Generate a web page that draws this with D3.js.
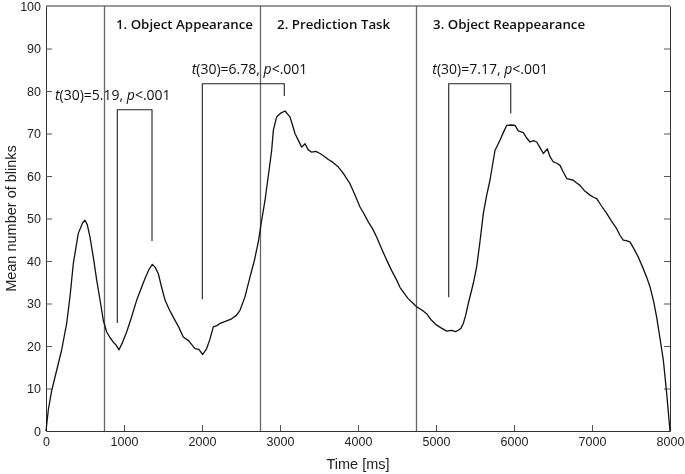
<!DOCTYPE html>
<html>
<head>
<style>
	body { margin: 0; background: #fff; }
	#chart { position: fixed; left: 0; top: 0; width: 685px; height: 474px; }
	.tick text { font-family: "Liberation Sans", Arial, sans-serif; font-size: 12.5px; fill: #222; }
</style>
<script src="https://d3js.org/d3.v7.min.js"></script>
</head>
<body>
<div id="chart"></div>
<script>
	// Curve: time in ms, mean number of blinks
	var timeMs = [0, 30, 73, 137, 200, 265, 310, 350, 414, 470, 500, 530, 564, 610, 650, 700, 735, 778, 820, 863, 900, 936,
		980, 1034, 1100, 1163, 1269, 1320, 1363, 1400, 1440, 1480, 1526, 1580, 1632, 1700, 1760, 1830, 1910, 1960, 2009,
		2060, 2100, 2145, 2190, 2231, 2300, 2380, 2440, 2487, 2550, 2615, 2670, 2722, 2760, 2808, 2850, 2893, 2915, 2957,
		3010, 3064, 3100, 3128, 3160, 3192, 3240, 3278, 3321, 3360, 3406, 3460, 3513, 3570, 3620, 3680, 3748, 3812, 3897,
		3960, 4026, 4080, 4132, 4190, 4240, 4300, 4368, 4430, 4496, 4538, 4581, 4640, 4709, 4752, 4810, 4880, 4940, 5009,
		5070, 5137, 5200, 5250, 5286, 5320, 5350, 5380, 5414, 5478, 5521, 5560, 5607, 5650, 5692, 5756, 5820, 5870, 5906,
		5960, 6013, 6055, 6120, 6160, 6205, 6250, 6291, 6330, 6376, 6427, 6460, 6504, 6550, 6590, 6630, 6676, 6720, 6760,
		6800, 6846, 6900, 6974, 7020, 7060, 7120, 7188, 7250, 7316, 7360, 7401, 7440, 7487, 7540, 7594, 7650, 7701, 7744,
		7790, 7829, 7870, 7915, 7958, 8000];
	var blinks = [0, 5, 9.5, 14.3, 19, 25.3, 32, 39.4, 46.5, 49, 49.6, 48.5, 45.6, 40.5, 35.5, 30, 26, 23.3, 22, 20.9, 20.2, 19.1,
		20.8, 23.3, 27, 30.8, 35.9, 38, 39.2, 38.5, 37, 34, 30.8, 28.6, 26.8, 24.5, 22.1, 21.2, 19.4, 19.2, 18,
		19.4, 21.5, 24.5, 24.8, 25.3, 25.8, 26.4, 27.2, 28.4, 31.5, 36.2, 40, 44.5, 49, 54.3, 60, 66, 70.8, 73.9,
		74.8, 75.3, 74.5, 73.9, 72, 70, 68.2, 66.8, 67.6, 66.2, 65.6, 65.8, 65.3, 64.6, 63.9, 63.2, 62.1, 60.6, 58.2,
		55.6, 52.7, 51, 49.2, 47.5, 45.6, 43, 40.2, 37.8, 35.5, 33.8, 32.7, 31.2, 30, 29.2, 28.6, 27.6, 26.1, 24.9,
		24.2, 23.5, 23.7, 23.4, 23.7, 24.2, 25.3, 27.2, 30, 34.7, 38.6, 44, 51.2, 55.5, 59, 66, 68.4, 70.5, 71.9,
		72, 71.9, 70.6, 70.2, 69, 68, 68.3, 68, 66.8, 65.3, 66.4, 64.6, 63.3, 63, 62.5, 61, 59.4, 59.2, 59,
		58.4, 57.8, 56.6, 55.5, 55, 54.7, 53, 51.2, 49.4, 47.6, 46, 44.9, 44.8, 44.5, 42.8, 40.9, 38.5, 36.2, 33.9,
		30.5, 26.8, 22, 16.6, 8.8, 0];

	// Phase boundaries (ms) and their labels
	var phaseLines = [750, 2750, 4750];
	var phaseLabels = ["1. Object Appearance", "2. Prediction Task", "3. Object Reappearance"];

	// Significance brackets: left/right time, top level, left/right end levels
	var bracketLeft = [914, 2004, 5163];
	var bracketRight = [1359, 3055, 5958];
	var bracketTop = [75.6, 81.7, 81.7];
	var bracketLeftEnd = [25.4, 31.0, 31.5];
	var bracketRightEnd = [44.7, 78.8, 74.7];
	var statT = ["5.19", "6.78", "7.17"];

	var xTicks = [0, 1000, 2000, 3000, 4000, 5000, 6000, 7000, 8000];
	var yTicks = [0, 10, 20, 30, 40, 50, 60, 70, 80, 90, 100];

	function drawChart() {
		d3.select("#chart").selectAll("svg").remove();

		var margin = {top: 6, right: 15, bottom: 43, left: 46},
			width = 685 - margin.left - margin.right,
			height = 474 - margin.top - margin.bottom;

		var svg = d3.select("#chart").append("svg")
			.attr("width", 685)
			.attr("height", 474);
		var g = svg.append("g").attr("transform", "translate(" + margin.left + "," + margin.top + ")");

		var x = d3.scaleLinear().domain([0, 8000]).range([0, width]);
		var y = d3.scaleLinear().domain([0, 100]).range([height, 0]);

		// axes, ticks pointing inwards like the original
		var xAxis = g.append("g").attr("transform", "translate(0," + height + ")")
			.call(d3.axisBottom(x).tickValues(xTicks).tickFormat(d3.format("d"))
				.tickSizeInner(-6).tickSizeOuter(0).tickPadding(6));
		var yAxis = g.append("g")
			.call(d3.axisLeft(y).tickValues(yTicks).tickFormat(d3.format("d"))
				.tickSizeInner(-6).tickSizeOuter(0).tickPadding(5));
		var yRight = g.append("g").attr("transform", "translate(" + width + ",0)")
			.call(d3.axisRight(y).tickValues(yTicks).tickSizeInner(-6).tickSizeOuter(0).tickFormat(""));
		[xAxis, yAxis, yRight].forEach(function(a) {
			a.selectAll("line").attr("stroke", "#555");
			a.select(".domain").attr("stroke", "#333");
		});
		xAxis.selectAll(".tick").filter(function(d) { return d === 0 || d === 8000; }).select("line").remove();
		yAxis.selectAll(".tick").filter(function(d) { return d === 0 || d === 100; }).select("line").remove();
		yRight.selectAll(".tick").filter(function(d) { return d === 0 || d === 100; }).select("line").remove();

		// top border
		g.append("line")
			.attr("x1", 0).attr("x2", width).attr("y1", 0).attr("y2", 0)
			.attr("stroke", "#333");

		// phase separators
		g.selectAll(".phase")
			.data(phaseLines)
			.enter()
			.append("line")
			.attr("x1", function(d) { return x(d); })
			.attr("x2", function(d) { return x(d); })
			.attr("y1", 0)
			.attr("y2", height)
			.attr("stroke", "#666")
			.attr("stroke-width", 1.3);

		var labelStart = [897, 2962, 4962];
		g.selectAll(".phaseLabel")
			.data(phaseLabels)
			.enter()
			.append("text")
			.attr("x", function(d, i) { return x(labelStart[i]); })
			.attr("y", 22.5)
			.attr("font-family", "'Open Sans', sans-serif")
			.attr("font-weight", 600)
			.attr("font-size", "13.3px")
			.attr("fill", "#111")
			.text(function(d) { return d; });

		// brackets
		g.selectAll(".bracket")
			.data(bracketLeft)
			.enter()
			.append("path")
			.attr("d", function(d, i) {
				return "M" + x(bracketLeft[i]) + "," + y(bracketLeftEnd[i]) +
					"V" + y(bracketTop[i]) +
					"H" + x(bracketRight[i]) +
					"V" + y(bracketRightEnd[i]);
			})
			.attr("fill", "none")
			.attr("stroke", "#222")
			.attr("stroke-width", 1.1);

		var statX = [115, 1868, 4953];
		var statY = [77.8, 83.9, 83.9];
		statT.forEach(function(tv, i) {
			var txt = g.append("text")
				.attr("x", x(statX[i]))
				.attr("y", y(statY[i]))
				.attr("font-family", "'Open Sans', sans-serif")
				.attr("font-size", "14px")
				.attr("fill", "#111");
			txt.append("tspan").attr("font-style", "italic").text("t");
			txt.append("tspan").text("(30)=" + tv + ", ");
			txt.append("tspan").attr("font-style", "italic").text("p");
			txt.append("tspan").text("<.001");
		});

		// blink curve
		var points = timeMs.map(function(t, i) { return [t, blinks[i]]; });
		var line = d3.line()
			.x(function(d) { return x(d[0]); })
			.y(function(d) { return y(d[1]); });
		g.append("path")
			.datum(points)
			.attr("d", line)
			.attr("fill", "none")
			.attr("stroke", "#111")
			.attr("stroke-width", 1.3)
			.attr("stroke-linejoin", "round");

		// axis titles
		svg.append("text")
			.attr("x", margin.left + width / 2)
			.attr("y", 469)
			.attr("text-anchor", "middle")
			.attr("font-family", "'Liberation Sans', Arial, sans-serif")
			.attr("font-size", "14.5px")
			.attr("fill", "#222")
			.text("Time [ms]");
		svg.append("text")
			.attr("transform", "translate(16," + (margin.top + height / 2) + ") rotate(-90)")
			.attr("text-anchor", "middle")
			.attr("font-family", "'Liberation Sans', Arial, sans-serif")
			.attr("font-size", "14.5px")
			.attr("fill", "#222")
			.text("Mean number of blinks");
	}

	drawChart();
</script>
</body>
</html>
